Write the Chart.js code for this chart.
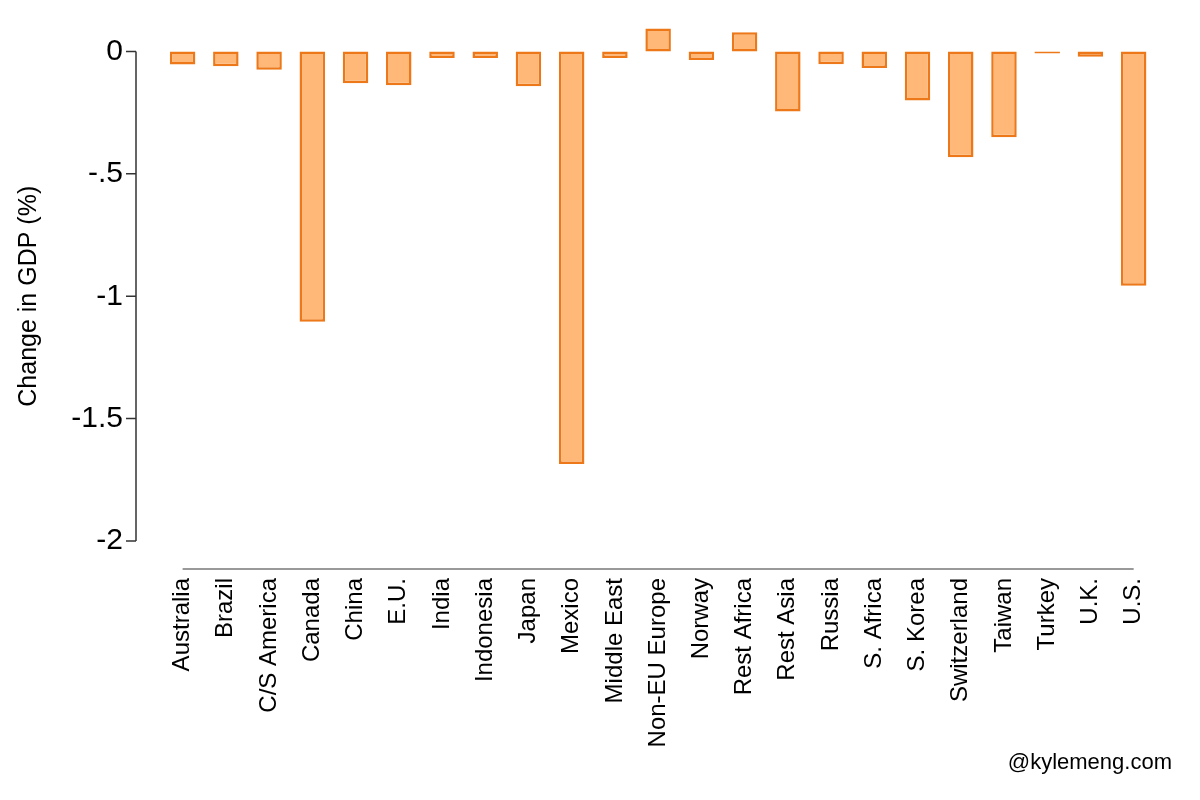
<!DOCTYPE html>
<html>
<head>
<meta charset="utf-8">
<script src="https://cdn.jsdelivr.net/npm/chart.js"></script>
<style>
  body { margin: 0; background: #fff; }
  #wrap { position: relative; width: 1200px; height: 800px; }
  #credit { position: absolute; right: 28px; top: 749px; font: 22px "Liberation Sans", Arial, sans-serif; color: #000; }
</style>
</head>
<body>
<div id="wrap">
  <canvas id="gdpChart" width="1200" height="800"></canvas>
  <div id="credit">@kylemeng.com</div>
</div>
<script>
const regions = ['Australia', 'Brazil', 'C/S America', 'Canada', 'China', 'E.U.', 'India', 'Indonesia',
  'Japan', 'Mexico', 'Middle East', 'Non-EU Europe', 'Norway', 'Rest Africa', 'Rest Asia', 'Russia',
  'S. Africa', 'S. Korea', 'Switzerland', 'Taiwan', 'Turkey', 'U.K.', 'U.S.'];
const gdpChange = [-0.053, -0.06, -0.075, -1.104, -0.13, -0.138, -0.027, -0.027,
  -0.142, -1.685, -0.027, 0.094, -0.035, 0.079, -0.245, -0.052,
  -0.068, -0.2, -0.432, -0.35, -0.008, -0.022, -0.957];
const yTicks = [0, -0.5, -1, -1.5, -2];
const yTitle = 'Change in GDP (%)';

const FONT = '"Liberation Sans", Arial, sans-serif';

// stata style axes: y line off to the left, x line only between first and last bar
const axisLines = {
  id: 'axisLines',
  afterDraw(chart) {
    const ctx = chart.ctx;
    const y = chart.scales.y, x = chart.scales.x;
    const ax = 136;
    const y0 = y.getPixelForValue(0), y2 = y.getPixelForValue(-2);
    ctx.save();
    ctx.strokeStyle = '#333';
    ctx.lineWidth = 1.5;
    ctx.beginPath();
    ctx.moveTo(ax, y0);
    ctx.lineTo(ax, y2);
    yTicks.forEach(v => {
      const py = y.getPixelForValue(v);
      ctx.moveTo(ax, py);
      ctx.lineTo(ax - 10, py);
    });
    ctx.stroke();

    ctx.strokeStyle = '#999';
    ctx.lineWidth = 2;
    ctx.beginPath();
    ctx.moveTo(x.getPixelForValue(0), 569);
    ctx.lineTo(x.getPixelForValue(regions.length - 1), 569);
    ctx.stroke();

    // axis title centred on the 0..-2 line, not on the whole scale box
    ctx.translate(29, (y0 + y2) / 2);
    ctx.rotate(-Math.PI / 2);
    ctx.fillStyle = '#000';
    ctx.font = '25px ' + FONT;
    ctx.textAlign = 'center';
    ctx.textBaseline = 'middle';
    ctx.fillText(yTitle, 0, 0);
    ctx.restore();
  }
};

const ctx = document.getElementById('gdpChart').getContext('2d');
const chart = new Chart(ctx, {
  type: 'bar',
  data: {
    labels: regions,
    datasets: [{
      data: gdpChange,
      backgroundColor: 'rgb(255, 184, 120)',
      borderColor: 'rgb(236, 120, 25)',
      borderWidth: 2.5,
      borderSkipped: false,
      barPercentage: 0.59,
      categoryPercentage: 1
    }]
  },
  options: {
    responsive: false,
    animation: false,
    layout: { padding: { top: 27, left: 15, right: 25, bottom: 0 } },
    plugins: { legend: { display: false }, tooltip: { enabled: false } },
    scales: {
      x: {
        grid: { display: false, drawTicks: false },
        border: { display: false },
        ticks: {
          color: '#000',
          font: { family: FONT, size: 24 },
          minRotation: 90,
          maxRotation: 90,
          autoSkip: false,
          padding: 37
        },
        afterFit(scale) { scale.height = 259; }
      },
      y: {
        min: -2,
        max: 0.1,
        grid: { display: false, drawTicks: false },
        border: { display: false },
        afterBuildTicks(scale) { scale.ticks = yTicks.map(v => ({ value: v })); },
        ticks: {
          color: '#000',
          font: { family: FONT, size: 30 },
          padding: 38,
          callback: v => v === 0 ? '0' : String(v).replace('0.', '.')
        },
        afterFit(scale) {
          scale.width = 146;
          scale.paddingTop = 0;
          scale.paddingBottom = 0;
        }
      }
    }
  },
  plugins: [axisLines]
});
</script>
</body>
</html>
